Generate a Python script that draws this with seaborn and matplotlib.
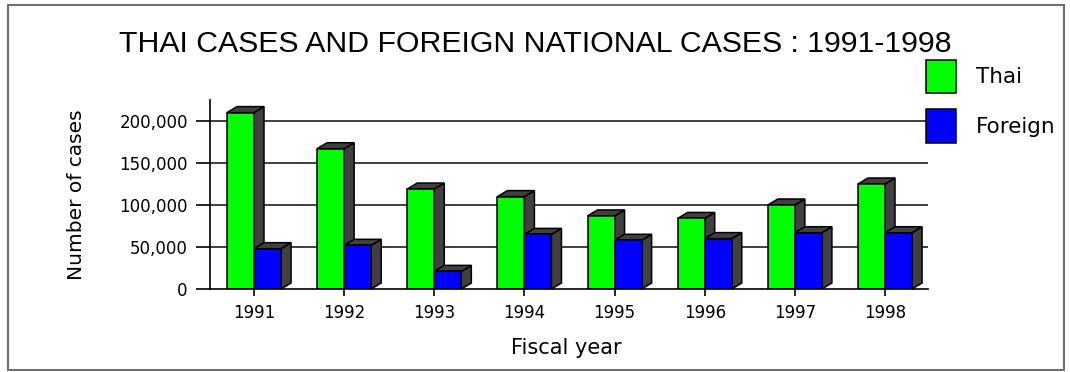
import pandas as pd
import matplotlib
matplotlib.use('Agg')
import matplotlib.pyplot as plt
import seaborn as sns
from matplotlib.patches import Polygon, Rectangle

# data
years = ['1991', '1992', '1993', '1994', '1995', '1996', '1997', '1998']
thai = [210000, 167000, 119000, 110000, 87000, 84000, 100000, 125000]
foreign = [48000, 52000, 21000, 65000, 58000, 60000, 67000, 67000]
yticks = [0, 50000, 100000, 150000, 200000]
ytick_labels = ['0', '50,000', '100,000', '150,000', '200,000']

df = pd.DataFrame({
    'Year': years * 2,
    'Cases': thai + foreign,
    'Group': ['Thai'] * len(years) + ['Foreign'] * len(years),
})

sns.set_style('white')
plt.rcParams['font.family'] = ['DejaVu Sans']
plt.rcParams['text.color'] = 'black'
plt.rcParams['axes.labelcolor'] = 'black'
plt.rcParams['xtick.color'] = 'black'
plt.rcParams['ytick.color'] = 'black'

W, H = 1070, 372
fig = plt.figure(figsize=(W / 100, H / 100), dpi=100)
ax = fig.add_axes([210 / W, 1 - 289 / H, (928 - 210) / W, (289 - 100) / H])

sns.barplot(data=df, x='Year', y='Cases', hue='Group',
            palette=['#00ff00', '#0000ff'], saturation=1, width=0.6,
            edgecolor='black', linewidth=1.1, errorbar=None, ax=ax)

ax.set_xlim(-0.488, 7.477)
ax.set_ylim(0, 225000)

# 3D-ish depth: offsets given in pixels, turned into data units
px_x = (928 - 210) / (7.477 + 0.488)
px_y = (289 - 100) / 225000
dx, dy = 10 / px_x, 6 / px_y
shade = '#404040'
for k, cont in enumerate(ax.containers):
    z = 2 + k
    for bar in cont:
        bar.set_zorder(z + 0.5)
        x0, x1 = bar.get_x(), bar.get_x() + bar.get_width()
        h = bar.get_height()
        side = Polygon([(x1, 0), (x1 + dx, dy), (x1 + dx, h + dy), (x1, h)],
                       closed=True, facecolor=shade, edgecolor='black',
                       linewidth=1.1, zorder=z, clip_on=False)
        top = Polygon([(x0, h), (x0 + dx, h + dy), (x1 + dx, h + dy), (x1, h)],
                      closed=True, facecolor=shade, edgecolor='black',
                      linewidth=1.1, zorder=z, clip_on=False)
        ax.add_patch(side)
        ax.add_patch(top)

# grid + axes
ax.set_yticks(yticks)
ax.set_yticklabels(ytick_labels)
for v in yticks[1:]:
    ax.axhline(v, color='#303030', linewidth=1.3, zorder=1)
for s in ['top', 'right']:
    ax.spines[s].set_visible(False)
for s in ['left', 'bottom']:
    ax.spines[s].set_color('black')
    ax.spines[s].set_linewidth(1.2)
ax.tick_params(axis='y', direction='out', length=10, width=1.2, color='black',
               labelsize=12, pad=6, left=True)
ax.tick_params(axis='x', direction='out', length=5, width=1.2, color='black',
               labelsize=12, pad=6, bottom=True)
ax.set_xlabel('')
ax.set_ylabel('')

# legend
handles, labels = ax.get_legend_handles_labels()
ax.legend(handles, labels, loc='upper left',
          bbox_to_anchor=(926 / W, 1 - 60 / H), bbox_transform=fig.transFigure,
          frameon=False, fontsize=15.5, handlelength=1.4, handleheight=2.0,
          handletextpad=0.9, labelspacing=0.75, borderpad=0, borderaxespad=0)

# texts
fig.text(0.5, 1 - 52 / H, 'THAI CASES AND FOREIGN NATIONAL CASES : 1991-1998',
         ha='center', va='baseline', fontsize=21.8, family='Liberation Sans')
fig.text(76.5 / W, 1 - 195 / H, 'Number of cases', rotation=90,
         ha='center', va='center', fontsize=14.5)
fig.text(566 / W, 1 - 354 / H, 'Fiscal year', ha='center', va='baseline',
         fontsize=15)

# outer frame
fig.patches.append(Rectangle((8 / W, 2 / H), (1064 - 8) / W, (367 - 2) / H,
                             transform=fig.transFigure, fill=False,
                             edgecolor='#707070', linewidth=1.5))

fig.savefig('out.png', dpi=100)
